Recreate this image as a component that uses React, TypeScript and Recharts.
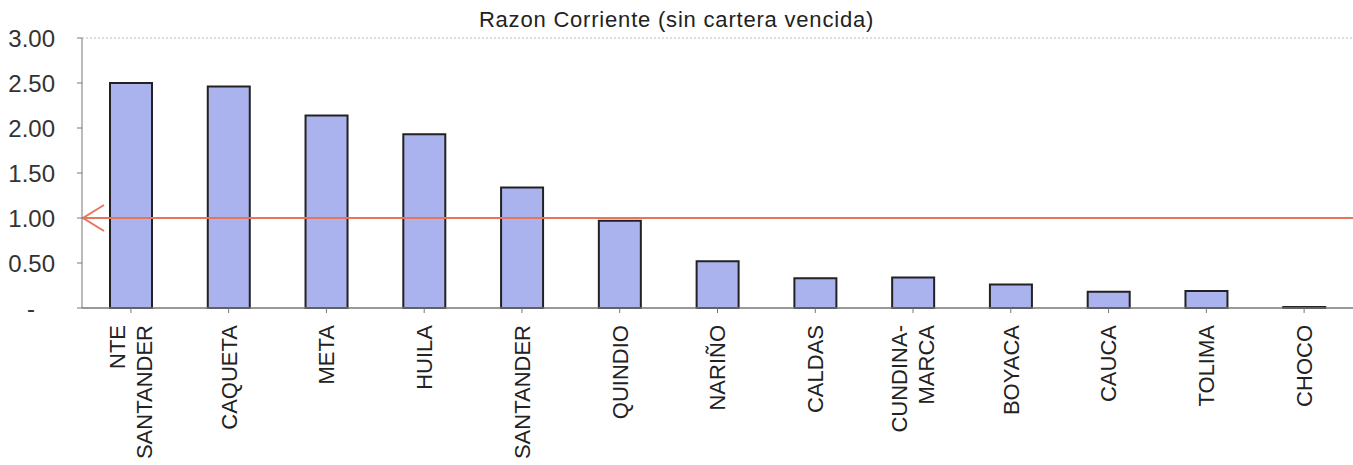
import { BarChart, Bar, XAxis, YAxis, ReferenceLine } from "recharts";

const departamentos = [
  "NTE\nSANTANDER",
  "CAQUETA",
  "META",
  "HUILA",
  "SANTANDER",
  "QUINDIO",
  "NARIÑO",
  "CALDAS",
  "CUNDINA-\nMARCA",
  "BOYACA",
  "CAUCA",
  "TOLIMA",
  "CHOCO",
];

const razonCorriente = [2.5, 2.46, 2.14, 1.93, 1.34, 0.97, 0.52, 0.33, 0.34, 0.26, 0.18, 0.19, 0.01];

const yTicks = [0, 0.5, 1, 1.5, 2, 2.5, 3];

const data = departamentos.map((name, i) => ({ name, valor: razonCorriente[i] }));

const FONT = "'Liberation Sans', Arial, sans-serif";

function DeptTick(props: any) {
  const { x, y, payload } = props;
  const lines = String(payload.value).split("\n");
  const lh = 27;
  const start = -((lines.length - 1) * lh) / 2;
  return (
    <g transform={`translate(${x},${y + 10}) rotate(-90)`}>
      <text textAnchor="end" fontSize={22} fill="#222" fontFamily={FONT}>
        {lines.map((l, i) => (
          <tspan key={i} x={0} y={start + i * lh} dy="0.36em">
            {l}
          </tspan>
        ))}
      </text>
    </g>
  );
}

function ArrowHead(props: any) {
  const { viewBox } = props;
  const x = viewBox.x;
  const y = viewBox.y;
  return (
    <path
      d={`M${x + 22},${y - 13} L${x + 1},${y} L${x + 22},${y + 13}`}
      fill="none"
      stroke="#e5765c"
      strokeWidth={2}
    />
  );
}

export default function App() {
  return (
    <div style={{ position: "absolute", left: 0, top: 0, width: 1353, height: 465, background: "#fff" }}>
      <div
        style={{
          position: "absolute",
          top: 7,
          left: 0,
          width: 1353,
          textAlign: "center",
          fontFamily: FONT,
          fontSize: 22,
          letterSpacing: 0.8,
          color: "#222",
        }}
      >
        Razon Corriente (sin cartera vencida)
      </div>
      <BarChart width={1353} height={465} data={data} margin={{ top: 38, right: 0, left: 0, bottom: 0 }}>
        <ReferenceLine y={3} stroke="#bbb" strokeDasharray="2 2" />
        <XAxis
          dataKey="name"
          interval={0}
          height={157}
          tick={<DeptTick />}
          tickSize={5}
          stroke="#777"
          axisLine={{ stroke: "#777", strokeWidth: 1.5 }}
        />
        <YAxis
          width={82}
          domain={[0, 3]}
          ticks={yTicks}
          tickSize={5}
          tickMargin={22}
          stroke="#777"
          tick={{ fontSize: 24, fill: "#333", fontFamily: FONT }}
          tickFormatter={(v: number) => (v === 0 ? "-\u00a0\u00a0\u00a0" : v.toFixed(2))}
        />
        <Bar dataKey="valor" fill="#aab3ee" stroke="#222" strokeWidth={2} barSize={42} isAnimationActive={false} />
        <ReferenceLine y={1} stroke="#e5765c" strokeWidth={2} label={<ArrowHead />} />
      </BarChart>
    </div>
  );
}
